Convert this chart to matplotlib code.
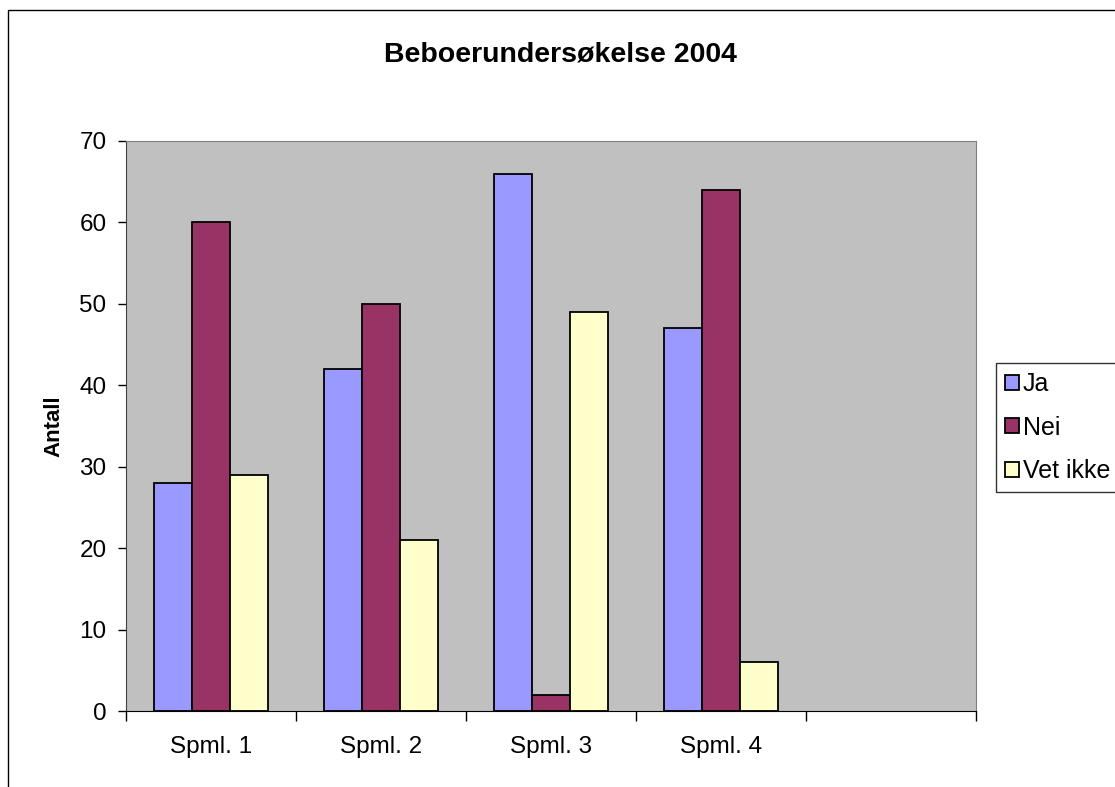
import numpy as np
import matplotlib.pyplot as plt
from matplotlib.patches import Rectangle

plt.rcParams['font.family'] = ['Liberation Sans', 'DejaVu Sans']

categories = ['Spml. 1', 'Spml. 2', 'Spml. 3', 'Spml. 4']
series = ['Ja', 'Nei', 'Vet ikke']
ja = [28, 42, 66, 47]
nei = [60, 50, 2, 64]
vet_ikke = [29, 21, 49, 6]
colors = ['#9999FF', '#993366', '#FFFFCC']

fig = plt.figure(figsize=(11.15, 7.87), dpi=100)
ax = fig.add_axes([126 / 1115, 1 - 711 / 787, 850 / 1115, 570 / 787])
ax.set_facecolor('#C0C0C0')

# outer chart frame (cut off at right and bottom like the original)
fig.patches.append(Rectangle((8 / 1115, -0.1), 1.2, 1 - 10 / 787 + 0.1,
                             transform=fig.transFigure, fill=False,
                             edgecolor='black', linewidth=1.0))

x = np.arange(len(categories))
w = 38 / 170
for i, (vals, name) in enumerate(zip([ja, nei, vet_ikke], series)):
    ax.bar(x + (i - 1) * w, vals, width=w, color=colors[i],
           edgecolor='black', linewidth=1.3, label=name)

ax.set_xlim(-0.5, 4.5)
ax.set_ylim(0, 70)
ax.set_yticks(range(0, 71, 10))
ax.set_xticks(x)
ax.set_xticklabels(categories)
ax.set_xticks(np.arange(-0.5, 4.6, 1), minor=True)
ax.tick_params(axis='x', which='major', length=0, pad=18, labelsize=17.5)
ax.tick_params(axis='x', which='minor', length=7, direction='out', width=1)
ax.tick_params(axis='y', length=6, width=1, labelsize=17.5, pad=8)

for s in ['top', 'right']:
    ax.spines[s].set_color('#808080')
ax.spines['left'].set_color('#404040')
ax.spines['bottom'].set_color('black')

ax.set_ylabel('Antall', fontsize=16, fontweight='bold', labelpad=11)
fig.text(0.503, 1 - 55 / 787, 'Beboerundersøkelse 2004', ha='center',
         va='center', fontsize=20.5, fontweight='bold')

leg = fig.legend(loc='upper left', bbox_to_anchor=(996 / 1115, 1 - 363 / 787),
                 fontsize=18, frameon=True, fancybox=False, edgecolor='black',
                 handlelength=0.56, handleheight=0.56, handletextpad=0.15,
                 borderpad=0.36, labelspacing=0.78, borderaxespad=0)
leg.get_frame().set_linewidth(1.0)

fig.savefig('out.png', dpi=100)
